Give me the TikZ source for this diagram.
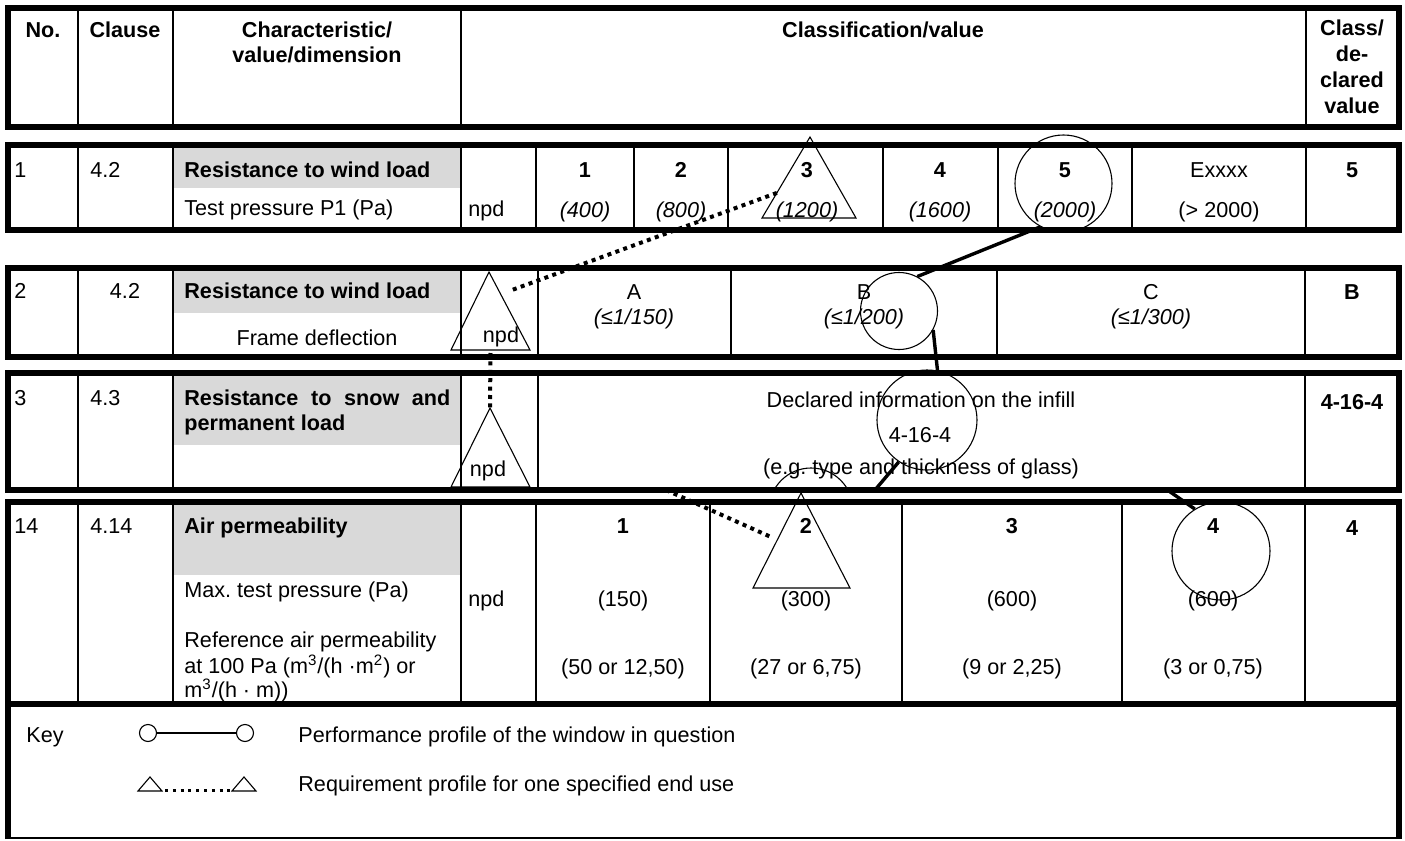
\documentclass[tikz,border=0pt]{standalone}
\usepackage{fontspec}
\setmainfont{Liberation Sans}
\usetikzlibrary{calc}
\frenchspacing
\begin{document}
\begin{tikzpicture}[x=0.5pt,y=-0.5pt,
  font=\fontsize{10.8pt}{13pt}\selectfont,
  thickrule/.style={line width=2.6pt},
  rule/.style={line width=0.75pt},
  txt/.style={inner sep=0pt,anchor=base},
  ltxt/.style={inner sep=0pt,anchor=base west},
  hd/.style={txt,font=\fontsize{10.8pt}{13pt}\selectfont\bfseries},
  lhd/.style={ltxt,font=\fontsize{10.8pt}{13pt}\selectfont\bfseries},
  itx/.style={txt,font=\fontsize{10.8pt}{13pt}\selectfont\itshape},
  ring/.style={circle,draw,line width=0.55pt,inner sep=0pt},
  tri/.style={line width=0.55pt,line join=miter},
  perfline/.style={line width=1.7pt},
  reqline/.style={line width=2pt,dash pattern=on 2pt off 2.2pt},
]
\useasboundingbox (0,0) rectangle (1405,841);
\fill[white] (0,0) rectangle (1405,841);

% shaded characteristic cells
\fill[gray!30] (173,147) rectangle (461,188);
\fill[gray!30] (173,270) rectangle (461,313);
\fill[gray!30] (173,375) rectangle (461,445);
\fill[gray!30] (173,504) rectangle (461,575);

% block frames
\draw[thickrule] (8,8) rectangle (1399,127);
\draw[thickrule] (8,145) rectangle (1399,230);
\draw[thickrule] (8,268) rectangle (1399,357);
\draw[thickrule] (8,373) rectangle (1399,490);
\draw[thickrule] (8,839) -- (8,502) -- (1399,502) -- (1399,839);
\draw[thickrule] (8,704) -- (1399,704);
\draw[rule] (8,838) -- (1399,838);

% column rules
\foreach \x in {78,173,461,1306} \draw[rule] (\x,8) -- (\x,127);
\foreach \x in {78,173,461,536,634,728,883,998,1132,1306} \draw[rule] (\x,145) -- (\x,230);
\foreach \x in {78,173,461,538,731,997,1305} \draw[rule] (\x,268) -- (\x,357);
\foreach \x in {78,173,461,538,1305} \draw[rule] (\x,373) -- (\x,490);
\foreach \x in {78,173,461,536,710,902,1122,1305} \draw[rule] (\x,502) -- (\x,704);

% header
\node[hd] (hNo) at (43,37) {No.};
\node[hd] (hCl) at (125,37) {Clause};
\node[hd] (hCh1) at (317,37) {Characteristic/};
\node[hd] (hCh2) at (317,62) {value/dimension};
\node[hd] (hCv) at (883,37) {Classification/value};
\node[hd] (hDv1) at (1352,35) {Class/};
\node[hd] (hDv2) at (1352,61) {de-};
\node[hd] (hDv3) at (1352,87) {clared};
\node[hd] (hDv4) at (1352,113) {value};

% row 1
\node[ltxt] (aNo) at (14,177) {1};
\node[ltxt] (aCl) at (90,177) {4.2};
\node[lhd] (aCh1) at (184,177) {Resistance to wind load};
\node[ltxt] (aCh2) at (184,215) {Test pressure P1 (Pa)};
\node[ltxt] (aNpd) at (468,216) {npd};
\node[hd] (a1) at (585,177) {1};
\node[itx] (a1v) at (585,217) {(400)};
\node[hd] (a2) at (681,177) {2};
\node[itx] (a2v) at (681,217) {(800)};
\node[hd] (a3) at (807,177) {3};
\node[itx] (a3v) at (807,217) {(1200)};
\node[hd] (a4) at (940,177) {4};
\node[itx] (a4v) at (940,217) {(1600)};
\node[hd] (a5) at (1065,177) {5};
\node[itx] (a5v) at (1065,217) {(2000)};
\node[txt] (aE) at (1219,177) {Exxxx};
\node[txt] (aEv) at (1219,217) {(> 2000)};
\node[hd] (aD) at (1352,177) {5};

% row 2
\node[ltxt] (bNo) at (14,298) {2};
\node[txt] (bCl) at (125,298) {4.2};
\node[lhd] (bCh1) at (184,298) {Resistance to wind load};
\node[txt] (bCh2) at (317,345) {Frame deflection};
\node[txt] (bNpd) at (501,342) {npd};
\node[txt] (bA) at (634,299) {A};
\node[itx] (bAv) at (634,324) {(≤1/150)};
\node[txt] (bB) at (864,299) {B};
\node[itx] (bBv) at (864,324) {(≤1/200)};
\node[txt] (bC) at (1151,299) {C};
\node[itx] (bCv) at (1151,324) {(≤1/300)};
\node[hd] (bD) at (1352,299) {B};

% row 3
\node[ltxt] (cNo) at (14,405) {3};
\node[ltxt] (cCl) at (90,405) {4.3};
\node[lhd] (cCh1) at (184,405) {\makebox[133pt][s]{Resistance to snow and}};
\node[lhd] (cCh2) at (184,430) {permanent load};
\node[txt] (cNpd) at (488,476) {npd};
\node[txt] (cInf1) at (921,407) {Declared information on the infill};
\node[txt] (cInf2) at (920,442) {4-16-4};
\node[txt] (cInf3) at (921,474) {(e.g. type and thickness of glass)};
\node[hd] (cD) at (1352,409) {4-16-4};

% row 14
\node[ltxt] (dNo) at (14,533) {14};
\node[ltxt] (dCl) at (90,533) {4.14};
\node[lhd] (dCh1) at (184,533) {Air permeability};
\node[ltxt] (dCh2) at (184,597) {Max. test pressure (Pa)};
\node[ltxt] (dCh3) at (184,647) {Reference air permeability};
\node[ltxt] (dCh4) at (184,673) {at 100 Pa (m\textsuperscript{3}/(h ·m\textsuperscript{2}) or};
\node[ltxt] (dCh5) at (184,697) {m\textsuperscript{3}/(h · m))};
\node[ltxt] (dNpd) at (468,606) {npd};
\node[hd] (d1) at (623,533) {1};
\node[txt] (d1v) at (623,606) {(150)};
\node[txt] (d1w) at (623,674) {(50 or 12,50)};
\node[hd] (d2) at (806,533) {2};
\node[txt] (d2v) at (806,606) {(300)};
\node[txt] (d2w) at (806,674) {(27 or 6,75)};
\node[hd] (d3) at (1012,533) {3};
\node[txt] (d3v) at (1012,606) {(600)};
\node[txt] (d3w) at (1012,674) {(9 or 2,25)};
\node[hd] (d4) at (1213,533) {4};
\node[txt] (d4v) at (1213,606) {(600)};
\node[txt] (d4w) at (1213,674) {(3 or 0,75)};
\node[hd] (dD) at (1352,535) {4};

% key
\node[ltxt] (kLbl) at (26,742) {Key};
\node[ring,minimum size=8.5pt] (k1) at (148,733) {};
\node[ring,minimum size=8.5pt] (k2) at (245,733) {};
\draw[line width=0.75pt] (k1) -- (k2);
\coordinate (kt1l) at (138,791); \coordinate (kt1r) at (162,791); \coordinate (kt1t) at (150,777);
\coordinate (kt2l) at (232,791); \coordinate (kt2r) at (256,791); \coordinate (kt2t) at (244,777);
\draw[tri] (kt1l) -- (kt1r) -- (kt1t) -- cycle;
\draw[tri] (kt2l) -- (kt2r) -- (kt2t) -- cycle;
\draw[line width=1.5pt,dash pattern=on 1.5pt off 2.4pt] ($(kt1r)+(3,-1)$) -- ($(kt2l)+(-1,-1)$);
\node[ltxt] (kPerf) at (298,742) {Performance profile of the window in question};
\node[ltxt] (kReq) at (298,791) {Requirement profile for one specified end use};

% performance profile: circles and solid links
\node[ring,minimum size=48.5pt] (c5) at (1063.5,183.5) {};
\node[ring,minimum size=38.5pt] (cB) at (899,311) {};
\node[ring,minimum size=50pt] (c416) at (927,420) {};
\node[ring,minimum size=49pt] (c4) at (1221,551) {};
\begin{scope}
  \clip (700,446) rectangle (900,489);
  \draw[line width=0.55pt] (811,510) circle[radius=42];
\end{scope}
\coordinate (p3end) at (875,490);
\coordinate (p14start) at (1166,489);
\draw[perfline] (c5.242) -- (cB.62);
\draw[perfline] (cB.331) -- (c416.78);
\draw[perfline] (c416.236) -- (p3end);
\draw[perfline] (p14start) -- (c4.122);

% requirement profile: triangles and dotted links
\coordinate (tAtop) at (810,137); \coordinate (tAleft) at (762,218); \coordinate (tAright) at (856,218);
\coordinate (tBtop) at (489,272); \coordinate (tBleft) at (451,350); \coordinate (tBright) at (530,350);
\coordinate (tCtop) at (490,408); \coordinate (tCleft) at (451,487); \coordinate (tCright) at (530,487);
\coordinate (tDtop) at (801,493); \coordinate (tDleft) at (753,588); \coordinate (tDright) at (850,588);
\draw[tri] (tAtop) -- (tAleft) -- (tAright) -- cycle;
\draw[tri] (tBtop) -- (tBleft) -- (tBright) -- cycle;
\draw[tri] (tCtop) -- (tCleft) -- (tCright) -- cycle;
\draw[tri] (tDtop) -- (tDleft) -- (tDright) -- cycle;
\coordinate (rq1a) at ($(tAtop)!0.69!(tAleft)$);
\coordinate (rq1b) at (512,290);
\coordinate (rq2a) at ($(tBleft)!0.5!(tBright)+(0,3)$);
\coordinate (rq3a) at (666,490);
\coordinate (rq3b) at (771,537);
\draw[reqline] (rq1a) -- (rq1b);
\draw[reqline] (rq2a) -- (tCtop);
\draw[reqline] (rq3a) -- (rq3b);
\end{tikzpicture}
\end{document}
